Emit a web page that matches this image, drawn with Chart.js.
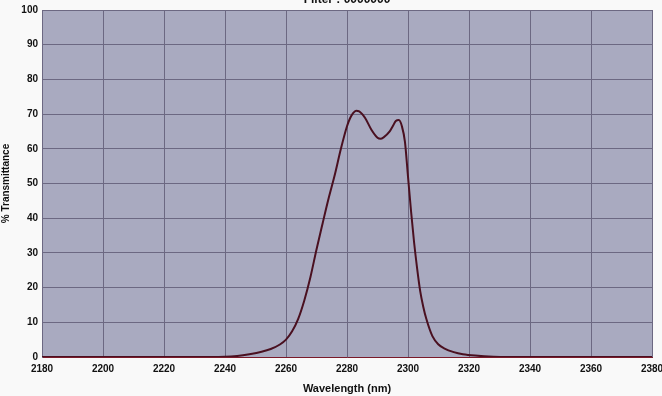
<!DOCTYPE html>
<html>
<head>
<meta charset="utf-8">
<script src="https://cdn.jsdelivr.net/npm/chart.js@4/dist/chart.umd.min.js"></script>
<style>
  html, body { margin: 0; padding: 0; background: #f9f9f9; }
  #wrap { width: 662px; height: 396px; }
</style>
</head>
<body>
<div id="wrap"><canvas id="grafico"></canvas></div>
<script>
// Valores
const titulo = "Filter : 0000000";
const comprimentos = [2180, 2200, 2220, 2235, 2240, 2244, 2248, 2252, 2255, 2258, 2260, 2262, 2264, 2266, 2268, 2270, 2272, 2274, 2276, 2278, 2280, 2281, 2282, 2283, 2284, 2285, 2286, 2288, 2290, 2291, 2292, 2294, 2295, 2296, 2297, 2298, 2299, 2300, 2301, 2302, 2303, 2304, 2305, 2306, 2308, 2310, 2312, 2315, 2318, 2322, 2328, 2340, 2360, 2380];
const transmitancia = [0, 0, 0, 0, 0.05, 0.3, 0.8, 1.5, 2.3, 3.6, 5.0, 7.4, 11.0, 16.3, 23, 31, 38.5, 45.8, 52.5, 60, 66.5, 68.8, 70.3, 71, 70.8, 70, 68.8, 65.5, 63.2, 62.9, 63.3, 65, 66.5, 68, 68.3, 66.5, 62, 52, 42, 33, 25.5, 19, 14.5, 11, 6.0, 3.6, 2.4, 1.4, 0.8, 0.4, 0.1, 0, 0, 0];
const ticksX = [2180, 2200, 2220, 2240, 2260, 2280, 2300, 2320, 2340, 2360, 2380];
const ticksY = [0, 10, 20, 30, 40, 50, 60, 70, 80, 90, 100];

const fonteEixo = { family: "'Liberation Sans Narrow', 'Arial Narrow', 'Liberation Sans', sans-serif", size: 10, weight: "bold" };

// Fundo da área do gráfico + título cortado no topo
const fundo = {
  id: "fundo",
  beforeDraw(chart) {
    const { ctx, chartArea: a } = chart;
    ctx.save();
    ctx.fillStyle = "#a9aac0";
    ctx.fillRect(a.left, a.top, a.right - a.left, a.bottom - a.top);
    ctx.restore();
  },
  afterDraw(chart) {
    const { ctx, chartArea: a } = chart;
    ctx.save();
    ctx.fillStyle = "#111";
    ctx.font = "bold 12px 'Liberation Sans', Arial, sans-serif";
    ctx.textAlign = "center";
    ctx.textBaseline = "alphabetic";
    ctx.fillText(titulo, (a.left + a.right) / 2, 3);
    ctx.restore();
  }
};

new Chart(document.getElementById("grafico"), {
  type: "scatter",
  data: {
    datasets: [{
      data: comprimentos.map((x, i) => ({ x, y: transmitancia[i] })),
      showLine: true,
      borderColor: "#4a1020",
      borderWidth: 2,
      pointRadius: 0,
      cubicInterpolationMode: "monotone",
    }]
  },
  options: {
    responsive: true,
    maintainAspectRatio: false,
    animation: false,
    layout: { padding: { top: 7, right: 10, left: 0, bottom: 0 } },
    plugins: { legend: { display: false }, tooltip: { enabled: false } },
    scales: {
      x: {
        type: "linear",
        min: 2180,
        max: 2380,
        afterBuildTicks(s) { s.ticks = ticksX.map(v => ({ value: v })); },
        afterFit(s) { s.height = 39; s.paddingRight = 0; s.paddingLeft = 0; },
        grid: { color: "#6c6882", lineWidth: 1, drawTicks: false },
        border: { color: "#7a1a2a", width: 1 },
        ticks: { color: "#111", font: fonteEixo, padding: 6, maxRotation: 0, callback: v => String(v) },
        title: { display: true, text: "Wavelength (nm)", color: "#111", font: { family: "'Liberation Sans', Arial, sans-serif", size: 11, weight: "bold" }, padding: { top: 1, bottom: 0 } }
      },
      y: {
        min: 0,
        max: 100,
        afterBuildTicks(s) { s.ticks = ticksY.map(v => ({ value: v })); },
        afterFit(s) { s.width = 42; },
        grid: { color: "#6c6882", lineWidth: 1, drawTicks: false },
        border: { color: "#6c6882" },
        ticks: { color: "#111", font: fonteEixo, padding: 4, callback: v => String(v) },
        title: { display: true, text: "% Transmittance", color: "#111", font: { family: "'Liberation Sans', Arial, sans-serif", size: 10, weight: "bold" }, padding: { top: 0, bottom: 4 } }
      }
    }
  },
  plugins: [fundo]
});
</script>
</body>
</html>
